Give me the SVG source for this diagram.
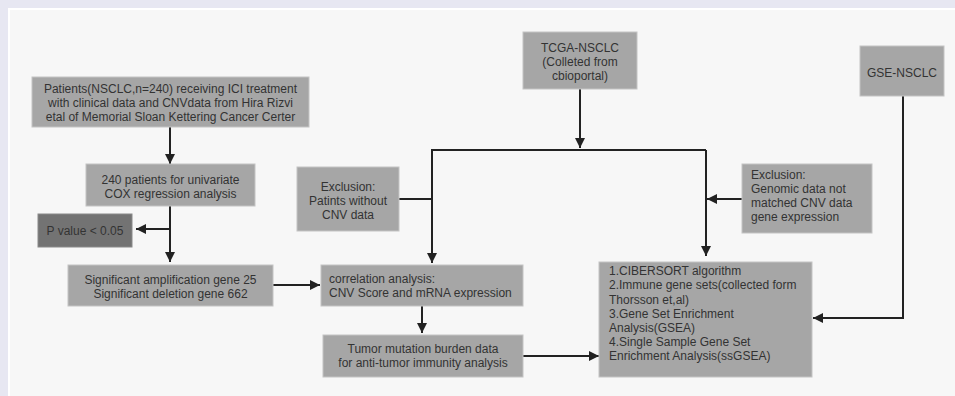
<svg xmlns="http://www.w3.org/2000/svg" width="955" height="396" viewBox="0 0 955 396">
<defs>
<marker id="ah" viewBox="0 0 10 10" refX="10" refY="5" markerWidth="10" markerHeight="10" markerUnits="userSpaceOnUse" orient="auto">
<path d="M0,0 L10,5 L0,10 Z" fill="#222"/>
</marker>
<style>
.box{fill:#a6a6a6;stroke:#c4c4c4;stroke-width:1}
.dark{fill:#737373;stroke:#8a8a8a;stroke-width:1}
text{font-family:"Liberation Sans",Arial,sans-serif;font-size:12px;fill:#333}
.c{text-anchor:middle}
.ln{fill:none;stroke:#222;stroke-width:2}
.arr{fill:none;stroke:#222;stroke-width:2;marker-end:url(#ah)}
</style>
</defs>
<rect x="0" y="0" width="955" height="396" fill="#e7e7f2"/>
<rect x="8" y="8" width="947" height="388" fill="#ffffff"/>
<rect x="10" y="10" width="945" height="386" fill="#f7f7f7"/>

<g id="connectors">
<line class="arr" x1="170" y1="127" x2="170" y2="164"/>
<line class="arr" x1="170" y1="206" x2="170" y2="262"/>
<line class="arr" x1="170" y1="229" x2="136" y2="229"/>
<line class="arr" x1="273" y1="285" x2="320" y2="285"/>
<line class="arr" x1="422" y1="306" x2="422" y2="333"/>
<line class="arr" x1="523" y1="356" x2="599" y2="356"/>
<line class="arr" x1="580" y1="89" x2="580" y2="148"/>
<polyline class="ln" points="432,160 432,150 706,150"/>
<line class="arr" x1="432" y1="150" x2="432" y2="263"/>
<line class="arr" x1="706" y1="150" x2="706" y2="256"/>
<line class="ln" x1="399" y1="199" x2="432" y2="199"/>
<line class="arr" x1="742" y1="199" x2="707" y2="199"/>
<polyline class="arr" points="903,96 903,318 813,318"/>
</g>

<g id="patients">
<rect class="box" x="32" y="77" width="277" height="50"/>
<text class="c" x="170.5" y="93">Patients(NSCLC,n=240) receiving ICI treatment</text>
<text class="c" x="170.5" y="107">with clinical data and CNVdata from Hira Rizvi</text>
<text class="c" x="170.5" y="121">etal of Memorial Sloan Kettering Cancer Certer</text>
</g>

<g id="cox">
<rect class="box" x="86" y="164" width="169" height="42"/>
<text class="c" x="170.5" y="184">240 patients for univariate</text>
<text class="c" x="170.5" y="198">COX regression analysis</text>
</g>

<g id="pvalue">
<rect class="dark" x="38" y="214" width="94" height="33"/>
<text class="c" x="85" y="235">P value &lt; 0.05</text>
</g>

<g id="significant">
<rect class="box" x="68" y="265" width="205" height="41"/>
<text class="c" x="170.5" y="284">Significant amplification gene 25</text>
<text class="c" x="170.5" y="298">Significant deletion gene 662</text>
</g>

<g id="exclusion-left">
<rect class="box" x="297" y="167" width="102" height="64"/>
<text class="c" x="348" y="191">Exclusion:</text>
<text class="c" x="348" y="205">Patints without</text>
<text class="c" x="348" y="219">CNV data</text>
</g>

<g id="correlation">
<rect class="box" x="321" y="265" width="202" height="41"/>
<text x="329" y="283">correlation analysis:</text>
<text x="329" y="297">CNV Score and mRNA expression</text>
</g>

<g id="tumor">
<rect class="box" x="323" y="335" width="200" height="42"/>
<text class="c" x="423" y="353">Tumor mutation burden data</text>
<text class="c" x="423" y="367">for anti-tumor immunity analysis</text>
</g>

<g id="tcga">
<rect class="box" x="523" y="32" width="114" height="57"/>
<text class="c" x="580" y="52">TCGA-NSCLC</text>
<text class="c" x="580" y="66">(Colleted from</text>
<text class="c" x="580" y="80">cbioportal)</text>
</g>

<g id="gse">
<rect class="box" x="860" y="46" width="84" height="50"/>
<text class="c" x="902" y="77">GSE-NSCLC</text>
</g>

<g id="exclusion-right">
<rect class="box" x="742" y="164" width="130" height="69"/>
<text x="751" y="179">Exclusion:</text>
<text x="751" y="193">Genomic data not</text>
<text x="751" y="207">matched CNV data</text>
<text x="751" y="221">gene expression</text>
</g>

<g id="methods">
<rect class="box" x="599" y="262" width="213" height="115"/>
<text x="609" y="275">1.CIBERSORT algorithm</text>
<text x="609" y="289">2.Immune gene sets(collected form</text>
<text x="609" y="303.5">Thorsson et,al)</text>
<text x="609" y="318">3.Gene Set Enrichment</text>
<text x="609" y="332">Analysis(GSEA)</text>
<text x="609" y="346">4.Single Sample Gene Set</text>
<text x="609" y="360">Enrichment Analysis(ssGSEA)</text>
</g>
</svg>
